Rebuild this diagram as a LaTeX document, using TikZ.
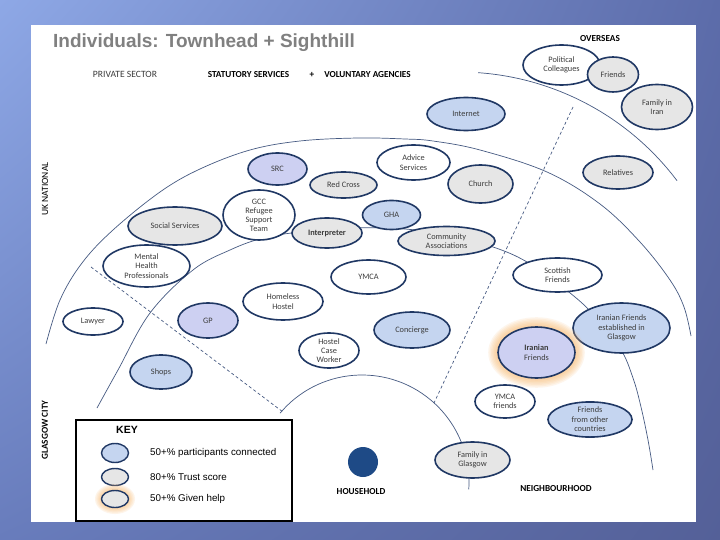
\documentclass[tikz,border=0pt]{standalone}
\usepackage{fontspec}
\setmainfont{Carlito}
\newfontfamily\arialf{Liberation Sans}
\usetikzlibrary{shapes.geometric,shadings}
\definecolor{bgTL}{RGB}{142,168,230}
\definecolor{bgTR}{RGB}{92,108,170}
\definecolor{bgBL}{RGB}{104,124,188}
\definecolor{bgBR}{RGB}{84,96,152}
\definecolor{navyC}{RGB}{32,56,100}
\definecolor{blueF}{RGB}{197,213,240}
\definecolor{grayF}{RGB}{230,230,230}
\definecolor{lavF}{RGB}{205,208,242}
\definecolor{arcC}{RGB}{70,90,130}
\definecolor{txtC}{RGB}{60,60,60}
\definecolor{titleC}{RGB}{128,128,128}
\definecolor{glowC}{RGB}{250,185,110}
\definecolor{homeC}{RGB}{30,74,134}
\begin{document}
\begin{tikzpicture}[x=1pt,y=-1pt,
  ell/.style={ellipse, draw=navyC, line width=1.6pt, inner sep=0pt, align=center,
    text=txtC, font=\fontsize{8.3}{9.5}\selectfont},
  bluef/.style={ell, fill=blueF},
  grayf/.style={ell, fill=grayF},
  whitef/.style={ell, fill=white},
  lavf/.style={ell, fill=lavF},
  sz/.style 2 args={minimum width=#1pt, minimum height=#2pt},
  arcline/.style={draw=arcC, line width=0.7pt},
  dashline/.style={arcline, dash pattern=on 3pt off 2.5pt},
  head/.style={font=\bfseries\fontsize{9.2}{10}\selectfont, text=black, inner sep=0pt},
  keytext/.style={font=\arialf\fontsize{9.8}{11}\selectfont, text=black, anchor=west, inner sep=0pt}]
\useasboundingbox (0,0) rectangle (720,540);
\shade[upper left=bgTL, upper right=bgTR, lower left=bgBL, lower right=bgBR] (0,0) rectangle (720,540);
\fill[white] (31,25) rectangle (696,522);

% arcs
\draw[arcline] plot[smooth, tension=0.6] coordinates {(46,344) (60,300) (82,263) (113,230) (160,192) (200,169) (250,150) (300,141) (358,138) (405,139) (433,141) (480,150) (547,172) (600,204) (640,242) (670,280) (684,307) (691,336)};
\draw[arcline] (459,345) ++(-86:273) arc[start angle=-86, end angle=-37, radius=273];
\draw[arcline] (362,482) ++(-140:107) arc[start angle=-140, end angle=4, radius=107];
\draw[arcline] plot[smooth, tension=0.6] coordinates {(97,408) (118,370) (150,313) (193,270) (230,250) (263,238) (300,232) (350,228) (405,229) (450,236) (493,247) (527,262) (565,289) (592,313) (620,348) (633,378) (641,407) (648,440) (653,470)};
\coordinate (d1a) at (91,267);
\coordinate (d1b) at (283,412);
\coordinate (d2a) at (573,107);
\coordinate (d2b) at (434,403);
\draw[dashline] (d1a) -- (d1b);
\draw[dashline] (d2a) -- (d2b);

% titles and headings
\node[anchor=west, inner sep=0pt, text=titleC, font=\arialf\bfseries\fontsize{19}{22}\selectfont] (title) at (53,43) {Individuals: Townhead + Sighthill};
\node[inner sep=0pt, text=txtC, font=\fontsize{9.6}{10}\selectfont] (priv) at (125,74) {PRIVATE SECTOR};
\node[head] (stat) at (248.5,75) {STATUTORY SERVICES};
\node[head] (plus) at (312,75) {+};
\node[head] (vol) at (367.5,75) {VOLUNTARY AGENCIES};
\node[head] (over) at (600,39) {OVERSEAS};
\node[head, rotate=90, font=\fontsize{9.5}{10}\selectfont] (uk) at (45,189) {UK NATIONAL};
\node[head, rotate=90, font=\bfseries\fontsize{9.2}{10}\selectfont] (gc) at (45,430) {GLASGOW CITY};
\node[head] (hh) at (361,492) {HOUSEHOLD};
\node[head] (nb) at (556,489) {NEIGHBOURHOOD};

% overseas
\node[whitef, sz={77}{40}] (pc) at (561.5,65) {Political\\Colleagues};
\node[grayf, sz={51}{35}] (fr) at (613,74.5) {Friends};
\node[grayf, sz={71}{45}] (fi) at (657,107) {Family in\\Iran};
\node[bluef, sz={78}{33}] (inet) at (466,114) {Internet};

% national
\node[lavf, sz={59}{32}] (src) at (277.5,169) {SRC};
\node[grayf, sz={67}{26}] (rc) at (343.5,185) {Red Cross};
\node[whitef, sz={73}{35}] (adv) at (413.5,162.5) {Advice\\Services};
\node[grayf, sz={65}{38}] (ch) at (480.5,184) {Church};
\node[whitef, sz={72}{50}, font=\fontsize{8.3}{9}\selectfont] (gcc) at (259,215) {GCC\\Refugee\\Support\\Team};
\node[grayf, sz={94}{38}] (ss) at (175,226) {Social Services};
\node[whitef, sz={87}{42}] (mh) at (146.5,266) {Mental\\Health\\Professionals};
\node[bluef, sz={58}{29}] (gha) at (391.5,215) {GHA};
\node[grayf, sz={70}{30}, font=\bfseries\fontsize{8.3}{9.5}\selectfont] (int) at (327,233) {Interpreter};
\node[grayf, sz={97}{29}] (ca) at (446.5,241) {Community\\Associations};
\node[grayf, sz={70}{33}] (rel) at (618,172.5) {Relatives};

% city
\node[whitef, sz={89}{34}] (sf) at (557.5,275) {Scottish\\Friends};
\node[bluef, sz={97}{50}] (ife) at (621.5,328) {Iranian Friends\\established in\\Glasgow};
\node[whitef, sz={75}{34}] (ymca) at (368.5,277) {YMCA};
\node[whitef, sz={80}{37}] (hh2) at (283,301.5) {Homeless\\Hostel};
\node[bluef, sz={76}{36}] (con) at (412,330) {Concierge};
\node[whitef, sz={60}{35}, font=\fontsize{8.3}{9}\selectfont] (hcw) at (329,350.5) {Hostel\\Case\\Worker};
\node[whitef, sz={60}{27}] (law) at (93,321.5) {Lawyer};
\node[lavf, sz={60}{35}] (gp) at (208,320.5) {GP};
\node[bluef, sz={62}{34}] (shops) at (161,372) {Shops};

% neighbourhood
\foreach \i in {1,...,7}
  \fill[glowC, opacity=0.13] (536.5,352.5) ellipse [x radius={38.5+1.4*\i}, y radius={25.5+1.4*\i}];
\node[lavf, sz={77}{51}] (irf) at (536.5,352.5) {\textbf{Iranian}\\Friends};
\node[whitef, sz={60}{33}] (ymf) at (505,401.5) {YMCA\\friends};
\node[bluef, sz={84}{35}] (ffo) at (590,419.5) {Friends\\from other\\countries};
\node[grayf, sz={75}{36}] (fg) at (472.5,460) {Family in\\Glasgow};
\node[circle, fill=homeC, minimum size=30pt, inner sep=0pt] (home) at (363,462) {};

% key
\node[draw=black, line width=1.2pt, fill=white, minimum width=216pt, minimum height=101pt, inner sep=0pt] (keybox) at (184,470.5) {};
\node[inner sep=0pt, font=\arialf\bfseries\fontsize{10.5}{12}\selectfont] (keyt) at (127,430) {KEY};
\node[bluef, line width=1.4pt, sz={27}{19}] (k1) at (115,453) {};
\node[grayf, line width=1.4pt, sz={27}{17}] (k2) at (115,477) {};
\foreach \i in {1,...,5}
  \fill[glowC, opacity=0.15] (115,499) ellipse [x radius={13.5+1.3*\i}, y radius={8.5+1.3*\i}];
\node[grayf, line width=1.4pt, sz={27}{17}] (k3) at (115,499) {};
\node[keytext] (kt1) at (150,453) {50+\% participants connected};
\node[keytext] (kt2) at (150,477) {80+\% Trust score};
\node[keytext] (kt3) at (150,499) {50+\% Given help};
\end{tikzpicture}
\end{document}
